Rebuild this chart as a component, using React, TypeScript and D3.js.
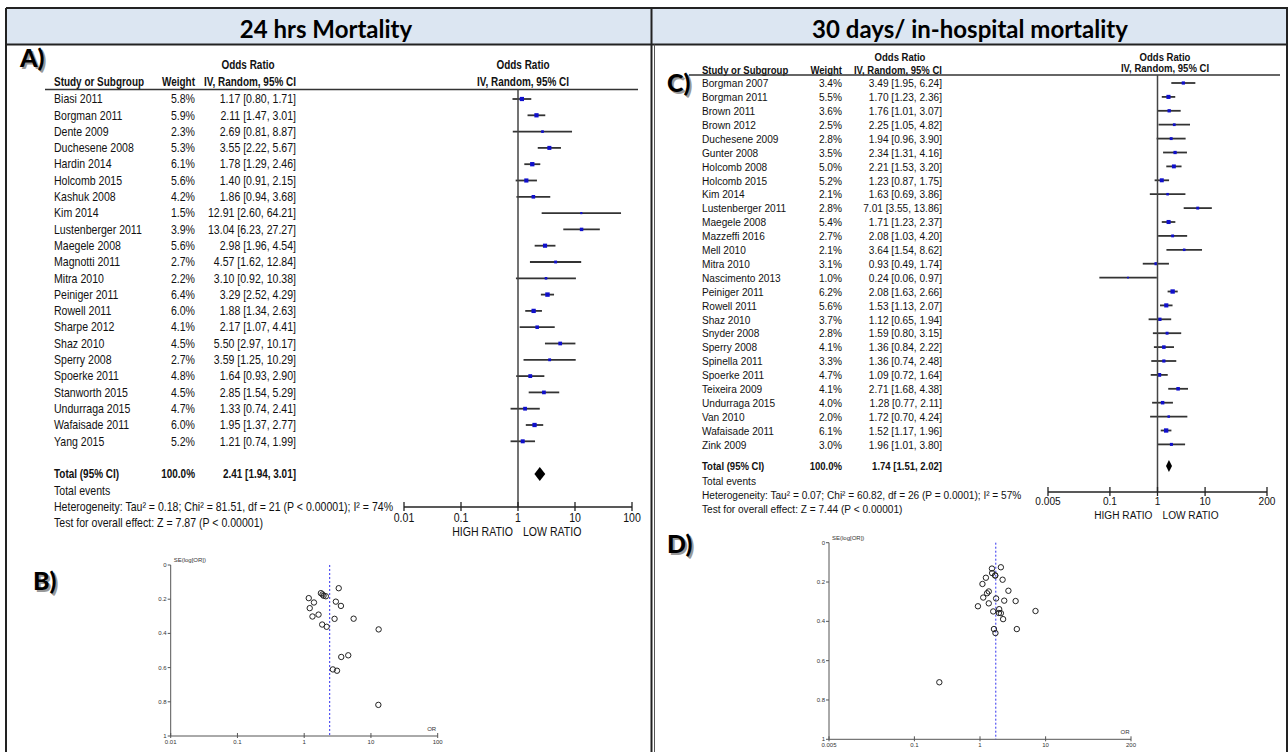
import React from "react";
import * as d3 from "d3";

// ---- 24 hrs mortality (panel A / B) ----
const studiesA = ["Biasi 2011", "Borgman 2011", "Dente 2009", "Duchesene 2008", "Hardin 2014", "Holcomb 2015", "Kashuk 2008", "Kim 2014", "Lustenberger 2011", "Maegele 2008", "Magnotti 2011", "Mitra 2010", "Peiniger 2011", "Rowell 2011", "Sharpe 2012", "Shaz 2010", "Sperry 2008", "Spoerke 2011", "Stanworth 2015", "Undurraga 2015", "Wafaisade 2011", "Yang 2015"];
const weightsA = [5.8, 5.9, 2.3, 5.3, 6.1, 5.6, 4.2, 1.5, 3.9, 5.6, 2.7, 2.2, 6.4, 6.0, 4.1, 4.5, 2.7, 4.8, 4.5, 4.7, 6.0, 5.2];
const orA = [1.17, 2.11, 2.69, 3.55, 1.78, 1.40, 1.86, 12.91, 13.04, 2.98, 4.57, 3.10, 3.29, 1.88, 2.17, 5.50, 3.59, 1.64, 2.85, 1.33, 1.95, 1.21];
const lowA = [0.80, 1.47, 0.81, 2.22, 1.29, 0.91, 0.94, 2.60, 6.23, 1.96, 1.62, 0.92, 2.52, 1.34, 1.07, 2.97, 1.25, 0.93, 1.54, 0.74, 1.37, 0.74];
const highA = [1.71, 3.01, 8.87, 5.67, 2.46, 2.15, 3.68, 64.21, 27.27, 4.54, 12.84, 10.38, 4.29, 2.63, 4.41, 10.17, 10.29, 2.90, 5.29, 2.41, 2.77, 1.99];
const totalA = [2.41, 1.94, 3.01];
const heteroA = "Heterogeneity: Tau² = 0.18; Chi² = 81.51, df = 21 (P < 0.00001); I² = 74%";
const testA = "Test for overall effect: Z = 7.87 (P < 0.00001)";
const ticksA = [0.01, 0.1, 1, 10, 100];
const tickLabelsA = ["0.01", "0.1", "1", "10", "100"];

// ---- 30 days / in-hospital mortality (panel C / D) ----
const studiesC = ["Borgman 2007", "Borgman 2011", "Brown 2011", "Brown 2012", "Duchesene 2009", "Gunter 2008", "Holcomb 2008", "Holcomb 2015", "Kim 2014", "Lustenberger 2011", "Maegele 2008", "Mazzeffi 2016", "Mell 2010", "Mitra 2010", "Nascimento 2013", "Peiniger 2011", "Rowell 2011", "Shaz 2010", "Snyder 2008", "Sperry 2008", "Spinella 2011", "Spoerke 2011", "Teixeira 2009", "Undurraga 2015", "Van 2010", "Wafaisade 2011", "Zink 2009"];
const weightsC = [3.4, 5.5, 3.6, 2.5, 2.8, 3.5, 5.0, 5.2, 2.1, 2.8, 5.4, 2.7, 2.1, 3.1, 1.0, 6.2, 5.6, 3.7, 2.8, 4.1, 3.3, 4.7, 4.1, 4.0, 2.0, 6.1, 3.0];
const orC = [3.49, 1.70, 1.76, 2.25, 1.94, 2.34, 2.21, 1.23, 1.63, 7.01, 1.71, 2.08, 3.64, 0.93, 0.24, 2.08, 1.53, 1.12, 1.59, 1.36, 1.36, 1.09, 2.71, 1.28, 1.72, 1.52, 1.96];
const lowC = [1.95, 1.23, 1.01, 1.05, 0.96, 1.31, 1.53, 0.87, 0.69, 3.55, 1.23, 1.03, 1.54, 0.49, 0.06, 1.63, 1.13, 0.65, 0.80, 0.84, 0.74, 0.72, 1.68, 0.77, 0.70, 1.17, 1.01];
const highC = [6.24, 2.36, 3.07, 4.82, 3.90, 4.16, 3.20, 1.75, 3.86, 13.86, 2.37, 4.20, 8.62, 1.74, 0.97, 2.66, 2.07, 1.94, 3.15, 2.22, 2.48, 1.64, 4.38, 2.11, 4.24, 1.96, 3.80];
const totalC = [1.74, 1.51, 2.02];
const heteroC = "Heterogeneity: Tau² = 0.07; Chi² = 60.82, df = 26 (P = 0.0001); I² = 57%";
const testC = "Test for overall effect: Z = 7.44 (P < 0.00001)";
const ticksC = [0.005, 0.1, 1, 10, 200];
const tickLabelsC = ["0.005", "0.1", "1", "10", "200"];

const seTicks = [0, 0.2, 0.4, 0.6, 0.8, 1];
const seTickLabels = ["0", "0.2", "0.4", "0.6", "0.8", "1"];

const tableFont = "'Liberation Sans', Arial, sans-serif";
const titleFont = "Lato, 'Open Sans', sans-serif";
const fmt = d3.format(".2f");

// text drawn condensed horizontally (RevMan uses a narrow face)
function T({ x, y, anchor = "start", bold = false, children }) {
  const sx = bold ? 0.83 : 0.88;
  return (
    <text transform={`translate(${x},${y}) scale(${sx},1)`} textAnchor={anchor}
      dominantBaseline="central" fontWeight={bold ? "bold" : "normal"}>
      {children}
    </text>
  );
}

function ForestPlot(p) {
  const x = d3.scaleLog().domain(p.domain).range(p.range);
  const y = (i) => p.rowY0 + i * p.rowStep;
  const box = (w) => Math.sqrt(w) * 1.75;
  const [tOr, tLo, tHi] = p.total;
  return (
    <g fontFamily={tableFont} fontSize={p.fontSize} fill="#111">
      <T x={p.oddsX} y={p.headY1} anchor="middle" bold>Odds Ratio</T>
      <T x={p.studyX} y={p.headY2} bold>Study or Subgroup</T>
      <T x={p.weightX} y={p.headY2} anchor="end" bold>Weight</T>
      <T x={p.ciX} y={p.headY2} anchor="end" bold>IV, Random, 95% CI</T>
      <T x={p.plotHeadX} y={p.headY1} anchor="middle" bold>Odds Ratio</T>
      <T x={p.plotHeadX} y={p.headY2b} anchor="middle" bold>IV, Random, 95% CI</T>
      <line x1={p.lineX1} x2={p.lineX2} y1={p.lineY} y2={p.lineY} stroke="#333" strokeWidth={1.5} />

      {p.studies.map((s, i) => (
        <g key={s}>
          <T x={p.studyX} y={y(i)}>{s}</T>
          <T x={p.weightX} y={y(i)} anchor="end">{p.weights[i].toFixed(1)}%</T>
          <T x={p.ciX} y={y(i)} anchor="end">{`${fmt(p.or[i])} [${fmt(p.low[i])}, ${fmt(p.high[i])}]`}</T>
          <line x1={x(p.low[i])} x2={x(p.high[i])} y1={y(i)} y2={y(i)} stroke="#333" strokeWidth={1.8} />
          <rect x={x(p.or[i]) - box(p.weights[i]) / 2} y={y(i) - box(p.weights[i]) / 2}
            width={box(p.weights[i])} height={box(p.weights[i])} fill="#1010cc" />
        </g>
      ))}

      <T x={p.studyX} y={p.totalY} bold>Total (95% CI)</T>
      <T x={p.weightX} y={p.totalY} anchor="end" bold>100.0%</T>
      <T x={p.ciX} y={p.totalY} anchor="end" bold>{`${fmt(tOr)} [${fmt(tLo)}, ${fmt(tHi)}]`}</T>
      <path d={`M${x(tLo)},${p.totalY} L${x(tOr)},${p.totalY - p.diaH} L${x(tHi)},${p.totalY} L${x(tOr)},${p.totalY + p.diaH} Z`} fill="#000" />
      <T x={p.studyX} y={p.eventsY}>Total events</T>
      <T x={p.studyX} y={p.heteroY}>{p.hetero}</T>
      <T x={p.studyX} y={p.testY}>{p.test}</T>

      <line x1={x(1)} x2={x(1)} y1={p.lineY} y2={p.axisY} stroke="#444" strokeWidth={1.5} />
      <line x1={p.range[0]} x2={p.range[1]} y1={p.axisY} y2={p.axisY} stroke="#222" strokeWidth={1.5} />
      {p.ticks.map((t, i) => (
        <g key={t}>
          <line x1={x(t)} x2={x(t)} y1={p.axisY - 5} y2={p.axisY + 4} stroke="#222" strokeWidth={1.3} />
          <T x={x(t)} y={p.axisY + p.tickDy} anchor="middle">{p.tickLabels[i]}</T>
        </g>
      ))}
      <T x={x(1) - 5} y={p.ratioY} anchor="end">HIGH RATIO</T>
      <T x={x(1) + 5} y={p.ratioY}>LOW RATIO</T>
    </g>
  );
}

function FunnelPlot(p) {
  const x = d3.scaleLog().domain(p.domain).range(p.xRange);
  const y = d3.scaleLinear().domain([0, 1]).range(p.yRange);
  // standard error of log(OR), recovered from each study's 95% CI
  const se = p.or.map((_, i) => (Math.log(p.high[i]) - Math.log(p.low[i])) / (2 * 1.96));
  const [x0, x1] = p.xRange;
  const [y0, y1] = p.yRange;
  return (
    <g fontFamily="'Liberation Sans', Arial, sans-serif" fontSize={6} fill="#333">
      <line x1={x0} x2={x0} y1={y0} y2={y1} stroke="#555" strokeWidth={1} />
      <line x1={x0} x2={x1} y1={y1} y2={y1} stroke="#555" strokeWidth={1} />
      {seTicks.map((t, i) => (
        <g key={t}>
          <line x1={x0 - 3} x2={x0} y1={y(t)} y2={y(t)} stroke="#555" />
          <text x={x0 - 4} y={y(t)} textAnchor="end" dominantBaseline="central">{seTickLabels[i]}</text>
        </g>
      ))}
      {p.ticks.map((t, i) => (
        <g key={t}>
          <line x1={x(t)} x2={x(t)} y1={y1 - 3} y2={y1 + 2} stroke="#555" />
          <text x={x(t)} y={y1 + 6} textAnchor="middle" dominantBaseline="central">{p.tickLabels[i]}</text>
        </g>
      ))}
      <text x={x0 + 3} y={y0 - 3}>SE(log[OR])</text>
      <text x={x1 - 6} y={y1 - 5} textAnchor="middle">OR</text>
      <line x1={x(p.pooled)} x2={x(p.pooled)} y1={y0} y2={y1} stroke="#3030ee" strokeWidth={1} strokeDasharray="2,2" />
      {p.or.map((v, i) => (
        <circle key={i} cx={x(v)} cy={y(se[i])} r={2.7} fill="none" stroke="#222" strokeWidth={1} />
      ))}
    </g>
  );
}

function PanelLabel({ x, y, text }) {
  return (
    <g fontFamily={titleFont} fontWeight="900" fontSize={25}>
      <text x={x + 2} y={y + 2} fill="#999">{text}</text>
      <text x={x} y={y} fill="#000">{text}</text>
    </g>
  );
}

export default function App() {
  return (
    <svg width={1288} height={752} style={{ position: "absolute", left: 0, top: 0, background: "#fff" }}>
      <rect x={0} y={0} width={1288} height={752} fill="#fff" />
      <rect x={6} y={8} width={1281} height={36.5} fill="#dce6f2" />
      <line x1={6} x2={1288} y1={8} y2={8} stroke="#222" strokeWidth={2} />
      <line x1={6} x2={1288} y1={44.5} y2={44.5} stroke="#222" strokeWidth={2} />
      <line x1={6} x2={6} y1={8} y2={752} stroke="#222" strokeWidth={2} />
      <line x1={651.5} x2={651.5} y1={8} y2={752} stroke="#222" strokeWidth={2} />
      <line x1={654.5} x2={654.5} y1={44.5} y2={752} stroke="#555" strokeWidth={1} />
      <line x1={1287} x2={1287} y1={8} y2={752} stroke="#222" strokeWidth={2} />

      <text x={326} y={28} textAnchor="middle" dominantBaseline="central" fontFamily={titleFont} fontWeight="bold" fontSize={24}>24 hrs Mortality</text>
      <text x={970} y={28} textAnchor="middle" dominantBaseline="central" fontFamily={titleFont} fontWeight="bold" fontSize={24}>30 days/ in-hospital mortality</text>

      <PanelLabel x={20} y={67} text="A)" />
      <PanelLabel x={33} y={590} text="B)" />
      <PanelLabel x={667} y={92} text="C)" />
      <PanelLabel x={667} y={553} text="D)" />

      <ForestPlot
        studies={studiesA} weights={weightsA} or={orA} low={lowA} high={highA} total={totalA}
        hetero={heteroA} test={testA} ticks={ticksA} tickLabels={tickLabelsA}
        domain={[0.01, 100]} range={[404, 632]} fontSize={12}
        studyX={54} weightX={195} ciX={296} oddsX={248} plotHeadX={523}
        headY1={65} headY2={82} headY2b={82} lineX1={45} lineX2={638} lineY={89.5}
        rowY0={99} rowStep={16.3} totalY={474} eventsY={491} heteroY={507} testY={523}
        axisY={507} tickDy={11} ratioY={532} diaH={7}
      />
      <ForestPlot
        studies={studiesC} weights={weightsC} or={orC} low={lowC} high={highC} total={totalC}
        hetero={heteroC} test={testC} ticks={ticksC} tickLabels={tickLabelsC}
        domain={[0.005, 200]} range={[1048, 1267]} fontSize={11.5}
        studyX={702} weightX={842} ciX={942} oddsX={900} plotHeadX={1165}
        headY1={57} headY2={70} headY2b={68} lineX1={689} lineX2={1280} lineY={75}
        rowY0={83} rowStep={13.9} totalY={466} eventsY={481} heteroY={495} testY={509}
        axisY={492} tickDy={9} ratioY={515} diaH={6}
      />

      <FunnelPlot or={orA} low={lowA} high={highA} pooled={totalA[0]}
        domain={[0.01, 100]} xRange={[170.7, 437.7]} yRange={[565, 736]}
        ticks={ticksA} tickLabels={tickLabelsA} />
      <FunnelPlot or={orC} low={lowC} high={highC} pooled={totalC[0]}
        domain={[0.005, 200]} xRange={[829, 1131]} yRange={[542.7, 739.3]}
        ticks={ticksC} tickLabels={tickLabelsC} />
    </svg>
  );
}
